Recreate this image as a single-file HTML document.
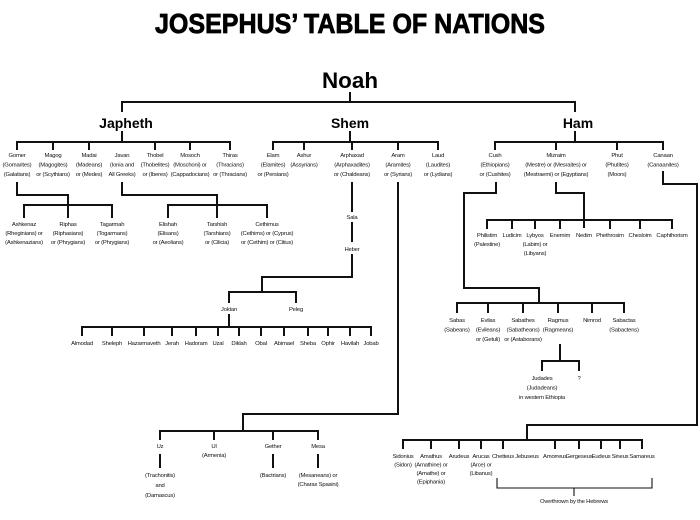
<!DOCTYPE html>
<html><head><meta charset="utf-8"><style>
html,body{margin:0;padding:0;background:#fff;}
svg{display:block;}
.t{font-family:"Liberation Sans Narrow","Liberation Sans",sans-serif;font-size:5.9px;letter-spacing:-0.2px;text-anchor:middle;fill:#111;}
.h{font-family:"Liberation Sans",sans-serif;font-weight:bold;font-size:14px;text-anchor:middle;fill:#000;}
path{fill:none;stroke:#111;stroke-width:2;}
</style></head><body>
<svg width="700" height="520" viewBox="0 0 700 520" xmlns="http://www.w3.org/2000/svg">
<text x="350" y="33" textLength="390" lengthAdjust="spacingAndGlyphs" style="font-family:'Liberation Sans',sans-serif;font-weight:bold;font-size:28px;text-anchor:middle;stroke:#000;stroke-width:0.8">JOSEPHUS’ TABLE OF NATIONS</text>
<text x="350" y="88" textLength="56" lengthAdjust="spacingAndGlyphs" style="font-family:'Liberation Sans',sans-serif;font-weight:bold;font-size:22px;text-anchor:middle">Noah</text>
<path d="M350 92V102M122 112V102H575V112"/>
<text class="h" x="126" y="128">Japheth</text>
<text class="h" x="350" y="128">Shem</text>
<text class="h" x="578" y="128">Ham</text>
<!-- Japheth -->
<path d="M122 131V142M17 150V142H230V150M53 142V150M89 142V150M155 142V150M190 142V150"/>
<g class="t">
<text x="17" y="157">Gomer<tspan x="17" dy="9.5">(Gomarites)</tspan><tspan x="17" dy="9.5">(Galatians)</tspan></text>
<text x="53" y="157">Magog<tspan x="53" dy="9.5">(Magogites)</tspan><tspan x="53" dy="9.5">or (Scythians)</tspan></text>
<text x="89" y="157">Madai<tspan x="89" dy="9.5">(Madeans)</tspan><tspan x="89" dy="9.5">or (Medes)</tspan></text>
<text x="122" y="157">Javan<tspan x="122" dy="9.5">(Ionia and</tspan><tspan x="122" dy="9.5">All Greeks)</tspan></text>
<text x="155" y="157">Thobel<tspan x="155" dy="9.5">(Thobelites)</tspan><tspan x="155" dy="9.5">or (Iberes)</tspan></text>
<text x="190" y="157">Mosoch<tspan x="190" dy="9.5">(Moschoni) or</tspan><tspan x="190" dy="9.5">(Cappadocians)</tspan></text>
<text x="230" y="157">Thiras<tspan x="230" dy="9.5">(Thracians)</tspan><tspan x="230" dy="9.5">or (Thracians)</tspan></text>
</g>
<path d="M17 182V195H68V218M24 218V205H112V218"/>
<path d="M122 182V195H217V218M168 218V205H267V218"/>
<g class="t">
<text x="24" y="226">Ashkenaz<tspan x="24" dy="9">(Rheginians) or</tspan><tspan x="24" dy="9">(Ashkenazians)</tspan></text>
<text x="68" y="226">Riphas<tspan x="68" dy="9">(Riphasians)</tspan><tspan x="68" dy="9">or (Phrygians)</tspan></text>
<text x="112" y="226">Tagarmah<tspan x="112" dy="9">(Togarmans)</tspan><tspan x="112" dy="9">or (Phrygians)</tspan></text>
<text x="168" y="226">Elishah<tspan x="168" dy="9">(Elisans)</tspan><tspan x="168" dy="9">or (Aeolians)</tspan></text>
<text x="217" y="226">Tarshish<tspan x="217" dy="9">(Tarshians)</tspan><tspan x="217" dy="9">or (Cilicia)</tspan></text>
<text x="267" y="226">Cethimus<tspan x="267" dy="9">(Cethims) or (Cyprus)</tspan><tspan x="267" dy="9">or (Cethim) or (Citius)</tspan></text>
</g>
<!-- Shem -->
<path d="M350 131V142M273 150V142H438V150M304 142V150M352 142V150M398 142V150"/>
<g class="t">
<text x="273" y="157">Elam<tspan x="273" dy="9.5">(Elamites)</tspan><tspan x="273" dy="9.5">or (Persians)</tspan></text>
<text x="304" y="157">Ashur<tspan x="304" dy="9.5">(Assyrians)</tspan></text>
<text x="352" y="157">Arphaxad<tspan x="352" dy="9.5">(Arphaxadites)</tspan><tspan x="352" dy="9.5">or (Chaldeans)</tspan></text>
<text x="398" y="157">Aram<tspan x="398" dy="9.5">(Aramites)</tspan><tspan x="398" dy="9.5">or (Syrians)</tspan></text>
<text x="438" y="157">Laud<tspan x="438" dy="9.5">(Laudites)</tspan><tspan x="438" dy="9.5">or (Lydians)</tspan></text>
<text x="352" y="219">Sala</text>
<text x="352" y="251">Heber</text>
<text x="229" y="311">Joktan</text>
<text x="296" y="311">Peleg</text>
</g>
<path d="M352 182V212M352 222V242M352 254V277H262V292M229 303V292H296V303"/>
<path d="M229 314V327M82 336V327H371V336M112 327V336M144 327V336M172 327V336M196 327V336M218 327V336M239 327V336M261 327V336M284 327V336M308 327V336M328 327V336M350 327V336"/>
<g class="t">
<text x="82" y="345">Almodad</text><text x="112" y="345">Sheleph</text><text x="144" y="345">Hazarmaveth</text><text x="172" y="345">Jerah</text><text x="196" y="345">Hadoram</text><text x="218" y="345">Uzal</text><text x="239" y="345">Diklah</text><text x="261" y="345">Obal</text><text x="284" y="345">Abimael</text><text x="308" y="345">Sheba</text><text x="328" y="345">Ophir</text><text x="350" y="345">Havilah</text><text x="371" y="345">Jobab</text>
</g>
<path d="M398 182V414H243V431M160 440V431H318V440M214 431V440M273 431V440"/>
<path d="M160 454V468M273 454V468M318 454V468"/>
<g class="t">
<text x="160" y="448">Uz</text>
<text x="160" y="477">(Trachonitis)<tspan x="160" dy="10">and</tspan><tspan x="160" dy="10">(Damascus)</tspan></text>
<text x="214" y="448">Ul<tspan x="214" dy="9">(Armenia)</tspan></text>
<text x="273" y="448">Gether</text>
<text x="273" y="477">(Bactrians)</text>
<text x="318" y="448">Mesa</text>
<text x="318" y="477">(Mesaneans) or<tspan x="318" dy="9">(Charax Spasini)</tspan></text>
</g>
<!-- Ham -->
<path d="M575 131V142M495 150V142H663V150M556 142V150M617 142V150"/>
<g class="t">
<text x="495" y="157">Cush<tspan x="495" dy="9.5">(Ethiopians)</tspan><tspan x="495" dy="9.5">or (Cushites)</tspan></text>
<text x="556" y="157">Mizraim<tspan x="556" dy="9.5">(Mestre) or (Mesraites) or</tspan><tspan x="556" dy="9.5">(Mestraemi) or (Egyptians)</tspan></text>
<text x="617" y="157">Phut<tspan x="617" dy="9.5">(Phutites)</tspan><tspan x="617" dy="9.5">(Moors)</tspan></text>
<text x="663" y="157">Canaan<tspan x="663" dy="9.5">(Canaanites)</tspan></text>
</g>
<path d="M556 182V193H584V228M487 229V220H672V229M512 220V229M535 220V229M560 220V229M610 220V229M640 220V229"/>
<g class="t">
<text x="487" y="237">Philistim<tspan x="487" dy="9">(Palestine)</tspan></text>
<text x="512" y="237">Ludicim</text>
<text x="535" y="237">Lybyos<tspan x="535" dy="9">(Labim) or</tspan><tspan x="535" dy="9">(Libyans)</tspan></text>
<text x="560" y="237">Enemim</text><text x="584" y="237">Nedim</text><text x="610" y="237">Phethrosim</text><text x="640" y="237">Chesloim</text><text x="672" y="237">Caphthorism</text>
</g>
<path d="M496 182V193H464V288H539V303M457 313V303H624V313M488 303V313M523 303V313M558 303V313M592 303V313"/>
<g class="t">
<text x="457" y="322">Sabas<tspan x="457" dy="9.5">(Sabeans)</tspan></text>
<text x="488" y="322">Evilas<tspan x="488" dy="9.5">(Evileans)</tspan><tspan x="488" dy="9.5">or (Getuli)</tspan></text>
<text x="523" y="322">Sabathes<tspan x="523" dy="9.5">(Sabatheans)</tspan><tspan x="523" dy="9.5">or (Astaborans)</tspan></text>
<text x="558" y="322">Ragmus<tspan x="558" dy="9.5">(Ragmeans)</tspan></text>
<text x="592" y="322">Nimrod</text>
<text x="624" y="322">Sabactas<tspan x="624" dy="9.5">(Sabactens)</tspan></text>
<text x="542" y="380">Judades<tspan x="542" dy="9.5">(Judadeans)</tspan><tspan x="542" dy="9.5">in western Ethiopia</tspan></text>
<text x="579" y="380">?</text>
</g>
<path d="M560 344V361M542 371V361H579V371"/>
<path d="M663 171V184H697V425H527V440M403 449V440H642V449M431 440V449M459 440V449M481 440V449M503 440V449M555 440V449M579 440V449M601 440V449M620 440V449"/>
<g class="t">
<text x="403" y="458">Sidonius<tspan x="403" dy="8.5">(Sidon)</tspan></text>
<text x="431" y="458">Amathus<tspan x="431" dy="8.5">(Amathine) or</tspan><tspan x="431" dy="8.5">(Amathe) or</tspan><tspan x="431" dy="8.5">(Epiphania)</tspan></text>
<text x="459" y="458">Arudeus</text>
<text x="481" y="458">Arucas<tspan x="481" dy="8.5">(Arce) or</tspan><tspan x="481" dy="8.5">(Libanus)</tspan></text>
<text x="503" y="458">Chetteus</text><text x="527" y="458">Jebuseus</text><text x="555" y="458">Amorreus</text><text x="579" y="458">Gergeseus</text><text x="601" y="458">Eudeus</text><text x="620" y="458">Sineus</text><text x="642" y="458">Samareus</text>
<text x="574" y="503">Overthrown by the Hebrews</text>
</g>
<path d="M497 478V488H652V478M574 488V496" style="stroke-width:1.1"/>
</svg>
</body></html>
